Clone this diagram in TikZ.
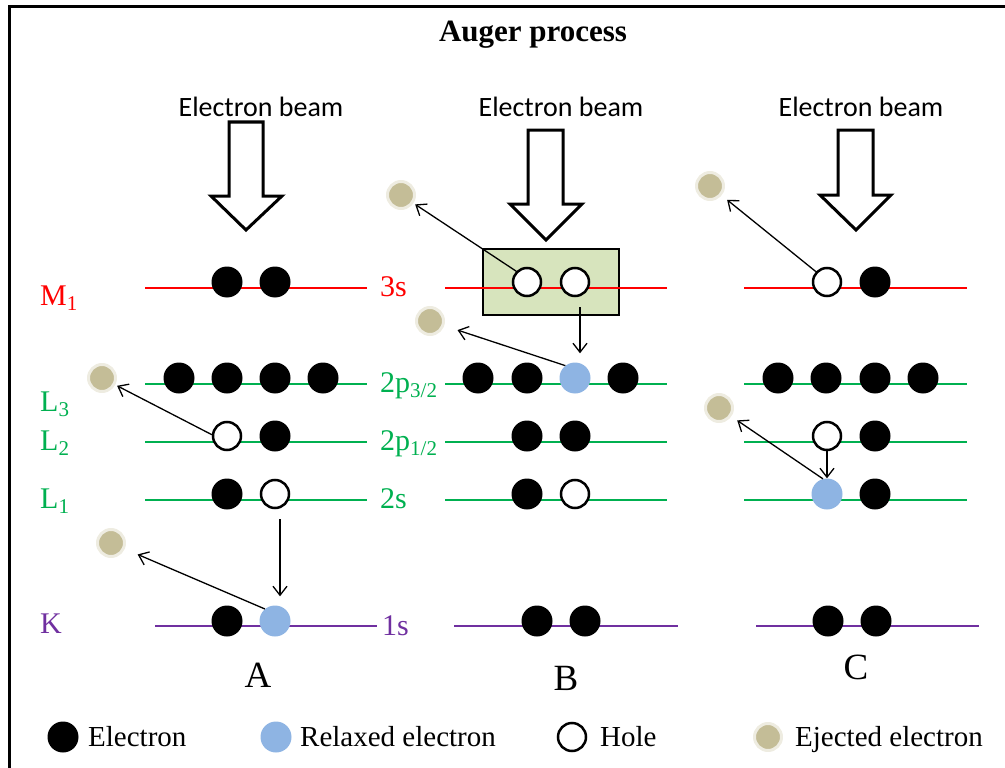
\documentclass[tikz,border=0pt]{standalone}
\usepackage{fontspec}
\setmainfont{Liberation Serif}
\newfontfamily\beamfont{Carlito}
\usetikzlibrary{arrows.meta}
\definecolor{lvred}{HTML}{FF0000}
\definecolor{lvgreen}{HTML}{00B050}
\definecolor{lvpurple}{HTML}{7030A0}
\definecolor{relblue}{HTML}{8EB4E3}
\definecolor{ejfill}{HTML}{C4BD97}
\definecolor{ejhalo}{HTML}{EEECE1}
\definecolor{boxgreen}{HTML}{D7E4BD}
\begin{document}
\begin{tikzpicture}[x=1pt,y=-1pt,
  el/.style={circle,fill=black,minimum size=31pt,inner sep=0pt},
  hole/.style={circle,draw=black,line width=2.5pt,fill=white,minimum size=28pt,inner sep=0pt},
  rel/.style={circle,fill=relblue,minimum size=31pt,inner sep=0pt},
  ej/.style={circle,fill=ejfill,draw=ejhalo,line width=3pt,minimum size=27pt,inner sep=0pt},
  lvl/.style={line width=2.5pt},
  lab/.style={font=\fontsize{30}{36}\selectfont,inner sep=0pt},
  abc/.style={font=\fontsize{37}{44}\selectfont,inner sep=0pt,anchor=base},
  beam/.style={font=\beamfont\fontsize{28}{34}\selectfont,inner sep=0pt,anchor=base},
  leg/.style={font=\fontsize{29}{35}\selectfont,inner sep=0pt,anchor=base west},
  arr/.style={line width=1.3pt,-{Straight Barb[length=9pt,width=14pt]}},
  barrow/.style={draw=black,fill=white,line width=3pt,line join=miter}
]
\useasboundingbox (0,0) rectangle (1005,768);
\clip (0,0) rectangle (1005,768);
\draw[line width=3pt] (9,7) rectangle (1030,790);

% title
\node[font=\bfseries\fontsize{31}{37}\selectfont,inner sep=0pt,anchor=base] (title) at (533,42) {Auger process};

% electron beams
\node[beam] (beamA) at (261,117) {Electron beam};
\node[beam] (beamB) at (561,117) {Electron beam};
\node[beam] (beamC) at (861,117) {Electron beam};
\path[barrow] (229,122) -- (229,196) -- (211,196) -- (246,230) -- (282,196) -- (263,196) -- (263,122) -- cycle;
\path[barrow] (528,130) -- (528,204) -- (510,204) -- (546,240) -- (582,204) -- (563,204) -- (563,130) -- cycle;
\path[barrow] (838,130) -- (838,195) -- (820,195) -- (856,230) -- (891,195) -- (873,195) -- (873,130) -- cycle;

% highlight box in B
\draw[fill=boxgreen,line width=2.5pt] (483,249) rectangle (619,315);

% level lines
\draw[lvl,lvred] (145,288) -- (367,288);
\draw[lvl,lvgreen] (145,384) -- (367,384);
\draw[lvl,lvgreen] (145,442) -- (367,442);
\draw[lvl,lvgreen] (145,500) -- (367,500);
\draw[lvl,lvpurple] (155,626) -- (377,626);

\draw[lvl,lvred] (445,288) -- (667,288);
\draw[lvl,lvgreen] (445,384) -- (667,384);
\draw[lvl,lvgreen] (445,442) -- (667,442);
\draw[lvl,lvgreen] (445,500) -- (667,500);
\draw[lvl,lvpurple] (454,626) -- (678,626);

\draw[lvl,lvred] (744,288) -- (967,288);
\draw[lvl,lvgreen] (744,384) -- (967,384);
\draw[lvl,lvgreen] (744,442) -- (967,442);
\draw[lvl,lvgreen] (744,500) -- (967,500);
\draw[lvl,lvpurple] (756,626) -- (979,626);

% left labels
\node[lab,text=lvred,anchor=base west] (lM) at (40,305) {M\textsubscript{1}};
\node[lab,text=lvgreen,anchor=base west] (lL3) at (40,411) {L\textsubscript{3}};
\node[lab,text=lvgreen,anchor=base west] (lL2) at (40,450) {L\textsubscript{2}};
\node[lab,text=lvgreen,anchor=base west] (lL1) at (40,508) {L\textsubscript{1}};
\node[lab,text=lvpurple,anchor=base west] (lK) at (40,633) {K};

% right labels
\node[lab,text=lvred,anchor=base west] (r3s) at (380,296) {3s};
\node[lab,text=lvgreen,anchor=base west] (r2p3) at (380,392) {2p\textsubscript{3/2}};
\node[lab,text=lvgreen,anchor=base west] (r2p1) at (380,450) {2p\textsubscript{1/2}};
\node[lab,text=lvgreen,anchor=base west] (r2s) at (380,508) {2s};
\node[lab,text=lvpurple,anchor=base west] (r1s) at (382,635) {1s};

% column A
\node[el] (aM1) at (227,282) {};
\node[el] (aM2) at (275,282) {};
\node[el] (aL31) at (179,378) {};
\node[el] (aL32) at (227,378) {};
\node[el] (aL33) at (275,378) {};
\node[el] (aL34) at (323,378) {};
\node[hole] (aL21) at (227,436) {};
\node[el] (aL22) at (275,436) {};
\node[el] (aL11) at (227,494) {};
\node[hole] (aL12) at (275,494) {};
\node[el] (aK1) at (227,621) {};
\node[rel] (aK2) at (275,621) {};
\node[ej] (aE1) at (102,378) {};
\node[ej] (aE2) at (111,543) {};
\draw[arr,shorten >=2pt] (aL21.175) -- (aE1);
\draw[arr,shorten >=14pt] (aK2.130) -- (aE2);
\draw[arr,shorten <=10pt,shorten >=9pt] ([xshift=5pt]aL12.south) -- ([xshift=5pt]aK2.north);

% column B
\node[hole] (bM1) at (527,282) {};
\node[hole] (bM2) at (575,282) {};
\node[el] (bL31) at (478,378) {};
\node[el] (bL32) at (527,378) {};
\node[rel] (bL33) at (575,378) {};
\node[el] (bL34) at (623,378) {};
\node[el] (bL21) at (527,436) {};
\node[el] (bL22) at (575,436) {};
\node[el] (bL11) at (527,494) {};
\node[hole] (bL12) at (575,494) {};
\node[el] (bK1) at (537,621) {};
\node[el] (bK2) at (585,621) {};
\node[ej] (bE1) at (401,195) {};
\node[ej] (bE2) at (430,321) {};
\draw[arr,shorten >=2pt] (bM1.135) -- (bE1);
\draw[arr,shorten >=14pt] (bL33.128) -- (bE2);
\draw[arr,shorten <=10pt,shorten >=9pt] ([xshift=5pt]bM2.south) -- ([xshift=5pt]bL33.north);

% column C
\node[hole] (cM1) at (827,282) {};
\node[el] (cM2) at (875,282) {};
\node[el] (cL31) at (778,378) {};
\node[el] (cL32) at (826,378) {};
\node[el] (cL33) at (875,378) {};
\node[el] (cL34) at (923,378) {};
\node[hole] (cL21) at (827,436) {};
\node[el] (cL22) at (875,436) {};
\node[rel] (cL11) at (827,494) {};
\node[el] (cL12) at (875,494) {};
\node[el] (cK1) at (828,621) {};
\node[el] (cK2) at (876,621) {};
\node[ej] (cE1) at (710,186) {};
\node[ej] (cE2) at (719,408) {};
\draw[arr,shorten >=7pt] (cM1.137) -- (cE1);
\draw[arr,shorten >=7pt] (cL11.105) -- (cE2);
\draw[arr] (cL21.south) -- (cL11.north);

% column letters
\node[abc] (lA) at (258,687) {A};
\node[abc] (lB) at (566,690) {B};
\node[abc] (lC) at (856,679) {C};

% legend
\node[el] (gE) at (63,737) {};
\node[leg] (gEt) at (88,746) {Electron};
\node[rel] (gR) at (276,737) {};
\node[leg] (gRt) at (300,746) {Relaxed electron};
\node[hole] (gH) at (572,737) {};
\node[leg] (gHt) at (600,746) {Hole};
\node[ej] (gJ) at (768,737) {};
\node[leg] (gJt) at (795,746) {Ejected electron};
\end{tikzpicture}
\end{document}
